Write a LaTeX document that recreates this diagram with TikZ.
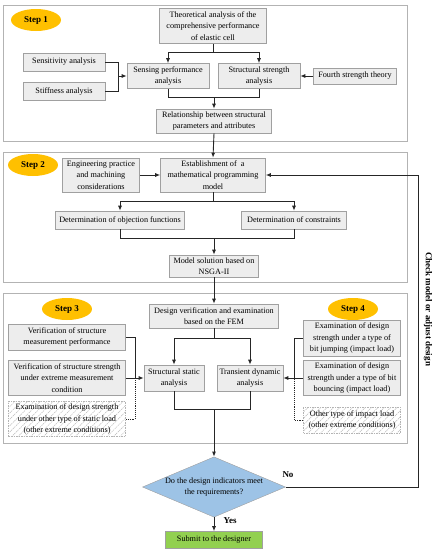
\documentclass[tikz,border=0pt]{standalone}
\usepackage{fontspec}
\setmainfont{Liberation Serif}
\usepackage{tikz}
\usetikzlibrary{arrows.meta,shapes.geometric,patterns.meta}
\tikzset{>={Latex[width=4pt,length=5pt]}}
\definecolor{cellgray}{RGB}{237,237,237}
\definecolor{linegray}{RGB}{160,160,160}
\definecolor{stepgold}{RGB}{255,192,0}
\definecolor{askblue}{RGB}{157,195,230}
\definecolor{okgreen}{RGB}{146,208,80}

\begin{document}
\begin{tikzpicture}[x=1pt, y=-1pt,
    cell/.style={draw=linegray, fill=cellgray, line width=0.6pt, align=center,
      inner sep=1pt, font=\fontsize{8.2}{11.6}\selectfont},
    hatchcell/.style={cell, draw=linegray!80, dash pattern=on 1.5pt off 1pt, fill=white,
      postaction={pattern={Lines[angle=45,distance=4.5pt,line width=0.5pt]},
        pattern color=linegray!70}},
    stepmark/.style={ellipse, fill=stepgold, minimum width=50, minimum height=22,
      inner sep=0pt, font=\bfseries\fontsize{9}{10}\selectfont},
    frame/.style={draw=linegray!80, line width=0.6pt},
    link/.style={line width=0.9pt, black!85},
    tag/.style={font=\bfseries\fontsize{9}{10}\selectfont}]

  \useasboundingbox (0,0) rectangle (435,550);

  %% frames
  \draw[frame] (3,5) rectangle (407,141);
  \draw[frame] (3,152) rectangle (407,282);
  \draw[frame] (3,293) rectangle (407,443);

  \node[stepmark] (s1) at (36,20) {Step 1};
  \node[stepmark] (s2) at (33,165) {Step 2};
  \node[stepmark] (s3) at (67,309) {Step 3};
  \node[stepmark] (s4) at (353,309) {Step 4};

  %% step 1
  \node[cell, minimum width=107, minimum height=35] (theo) at (213,26)
    {Theoretical analysis of the\\comprehensive performance\\of elastic cell};
  \node[cell, minimum width=82, minimum height=18] (sens) at (64,62) {Sensitivity analysis};
  \node[cell, minimum width=82, minimum height=18] (stiff) at (64,91) {Stiffness analysis};
  \node[cell, minimum width=82, minimum height=25] (sensing) at (168,76)
    {Sensing performance\\analysis};
  \node[cell, minimum width=82, minimum height=25] (strength) at (259,76)
    {Structural strength\\analysis};
  \node[cell, minimum width=83, minimum height=16] (fourth) at (355,76) {Fourth strength theory};
  \node[cell, minimum width=115, minimum height=24] (relation) at (214,121)
    {Relationship between structural\\parameters and attributes};

  \coordinate (j1) at (118,76);
  \coordinate (j2) at (214,97);
  \draw[link, ->] (theo.south) -- ++(0,9) -| (sensing.north);
  \draw[link, ->] (theo.south) -- ++(0,9) -| (strength.north);
  \draw[link] (sens.east) -| (j1);
  \draw[link] (stiff.east) -| (j1);
  \draw[link, ->] (j1) -- (sensing.west);
  \draw[link, ->] (fourth.west) -- (strength.east);
  \draw[link] (sensing.south) |- (j2);
  \draw[link] (strength.south) |- (j2);
  \draw[link, ->] (j2) -- (relation.north);

  %% step 2
  \node[cell, minimum width=77, minimum height=34] (eng) at (101,175)
    {Engineering practice\\and machining\\considerations};
  \node[cell, minimum width=105, minimum height=34] (estab) at (213,175)
    {Establishment of \ a\\mathematical programming\\model};
  \node[cell, minimum width=129, minimum height=18] (objfun) at (120,220)
    {Determination of objection functions};
  \node[cell, minimum width=105, minimum height=18] (constr) at (294,220)
    {Determination of constraints};
  \node[cell, minimum width=89, minimum height=22] (nsga) at (214,266)
    {Model solution based on\\NSGA-II};

  \coordinate (j3) at (214,238);
  \draw[link, ->] (relation.south) -- (estab.north);
  \draw[link, ->] (eng.east) -- (estab.west);
  \draw[link, ->] (estab.south) -- ++(0,9) -| (objfun.north);
  \draw[link, ->] (estab.south) -- ++(0,9) -| (constr.north);
  \draw[link] (objfun.south) |- (j3);
  \draw[link] (constr.south) |- (j3);
  \draw[link, ->] (j3) -- (nsga.north);

  %% steps 3 and 4
  \node[cell, minimum width=129, minimum height=24] (fem) at (214,316)
    {Design verification and examination\\based on the FEM};
  \node[cell, minimum width=117, minimum height=26] (vmeas) at (67,337)
    {Verification of structure\\measurement performance};
  \node[cell, minimum width=117, minimum height=35] (vstr) at (67,378)
    {Verification of structure strength\\under extreme measurement\\condition};
  \node[hatchcell, minimum width=117, minimum height=35] (vother) at (67,419)
    {Examination of design strength\\under other type of static load\\(other extreme conditions)};
  \node[cell, minimum width=60, minimum height=26] (static) at (174,378)
    {Structural static\\analysis};
  \node[cell, minimum width=66, minimum height=26] (trans) at (250,378)
    {Transient dynamic\\analysis};
  \node[cell, minimum width=97, minimum height=36] (jump) at (352,338)
    {Examination of design\\strength under a type of\\bit jumping (impact load)};
  \node[cell, minimum width=97, minimum height=35] (bounce) at (352,378)
    {Examination of design\\strength under a type of bit\\bouncing (impact load)};
  \node[hatchcell, minimum width=97, minimum height=26] (impact) at (352,420)
    {Other type of impact load\\(other extreme conditions)};

  \coordinate (jl) at (135,378);
  \coordinate (jr) at (294,378);
  \coordinate (j4) at (214,409);
  \draw[link, ->] (nsga.south) -- (fem.north);
  \draw[link, ->] (fem.south) -- ++(0,10) -| (static.north);
  \draw[link, ->] (fem.south) -- ++(0,10) -| (trans.north);
  \draw[link] (vmeas.east) -| (jl);
  \draw[link, ->] (vstr.east) -- (static.west);
  \draw[link, densely dotted] (vother.east) -| (jl);
  \draw[link] (jump.west) -| (jr);
  \draw[link, ->] (bounce.west) -- (trans.east);
  \draw[link, densely dotted] (impact.west) -| (jr);
  \draw[link] (static.south) |- (j4);
  \draw[link] (trans.south) |- (j4);

  %% decision
  \node[diamond, draw=linegray, fill=askblue, aspect=2.37, minimum width=142,
    minimum height=60, inner sep=0pt, align=center,
    font=\fontsize{8.2}{11.6}\selectfont] (ask) at (214,487)
    {Do the design indicators meet\\the requirements?};
  \node[cell, fill=okgreen, minimum width=97, minimum height=17] (submit) at (214,540)
    {Submit to the designer};

  \coordinate (back) at (418,487);
  \draw[link, ->] (j4) -- (ask.north);
  \draw[link, ->] (ask.south) -- (submit.north);
  \draw[link, ->] (ask.east) -- (back) |- (estab.east);

  \node[tag] (no) at (288,475) {No};
  \node[tag] (yes) at (230,521) {Yes};
  \node[tag, rotate=-90] (check) at (428,309) {Check model or adjust design};

\end{tikzpicture}
\end{document}
